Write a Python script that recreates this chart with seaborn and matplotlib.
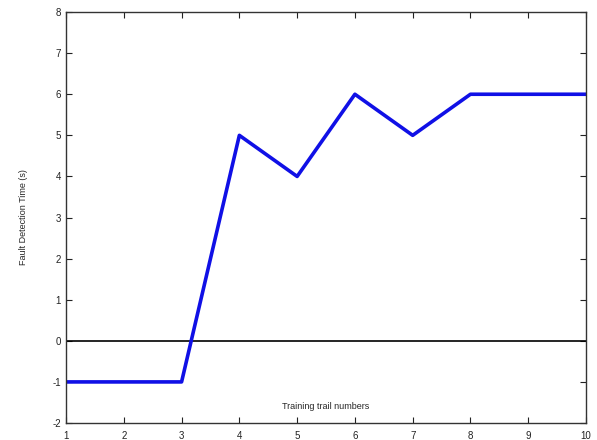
import matplotlib
matplotlib.use("Agg")
import matplotlib.pyplot as plt
import seaborn as sns
import pandas as pd

trials = [1, 2, 3, 4, 5, 6, 7, 8, 9, 10]
detection_time = [-1, -1, -1, 5, 4, 6, 5, 6, 6, 6]
x_ticks = [1, 2, 3, 4, 5, 6, 7, 8, 9, 10]
y_ticks = [-2, -1, 0, 1, 2, 3, 4, 5, 6, 7, 8]

sns.set_style("ticks")
plt.rcParams["font.family"] = ["Liberation Sans", "DejaVu Sans"]
plt.rcParams["axes.unicode_minus"] = False

df = pd.DataFrame({"trial": trials, "time": detection_time})

fig = plt.figure(figsize=(5.97, 4.40), dpi=100)
ax = fig.add_axes([0.1106, 0.0386, 0.871, 0.934])

ax.axhline(0, color="black", linewidth=1.2, zorder=1)
sns.lineplot(data=df, x="trial", y="time", ax=ax, color="#1010e6", linewidth=2.6, zorder=2)

ax.set_xlim(1, 10)
ax.set_ylim(-2, 8)
ax.set_xticks(x_ticks)
ax.set_yticks(y_ticks)
ax.tick_params(direction="in", length=4, width=0.8, labelsize=7, top=True, right=True, colors="#222222")
ax.tick_params(axis="x", pad=6)
for s in ax.spines.values():
    s.set_visible(True)
    s.set_linewidth(1.0)
    s.set_color("#333333")

ax.set_xlabel("")
ax.set_ylabel("Fault Detection Time (s)", fontsize=6.5, labelpad=18)
ax.text(0.5, 0.04, "Training trail numbers", transform=ax.transAxes,
        ha="center", va="center", fontsize=6.5)

fig.savefig("out.png", dpi=100)
